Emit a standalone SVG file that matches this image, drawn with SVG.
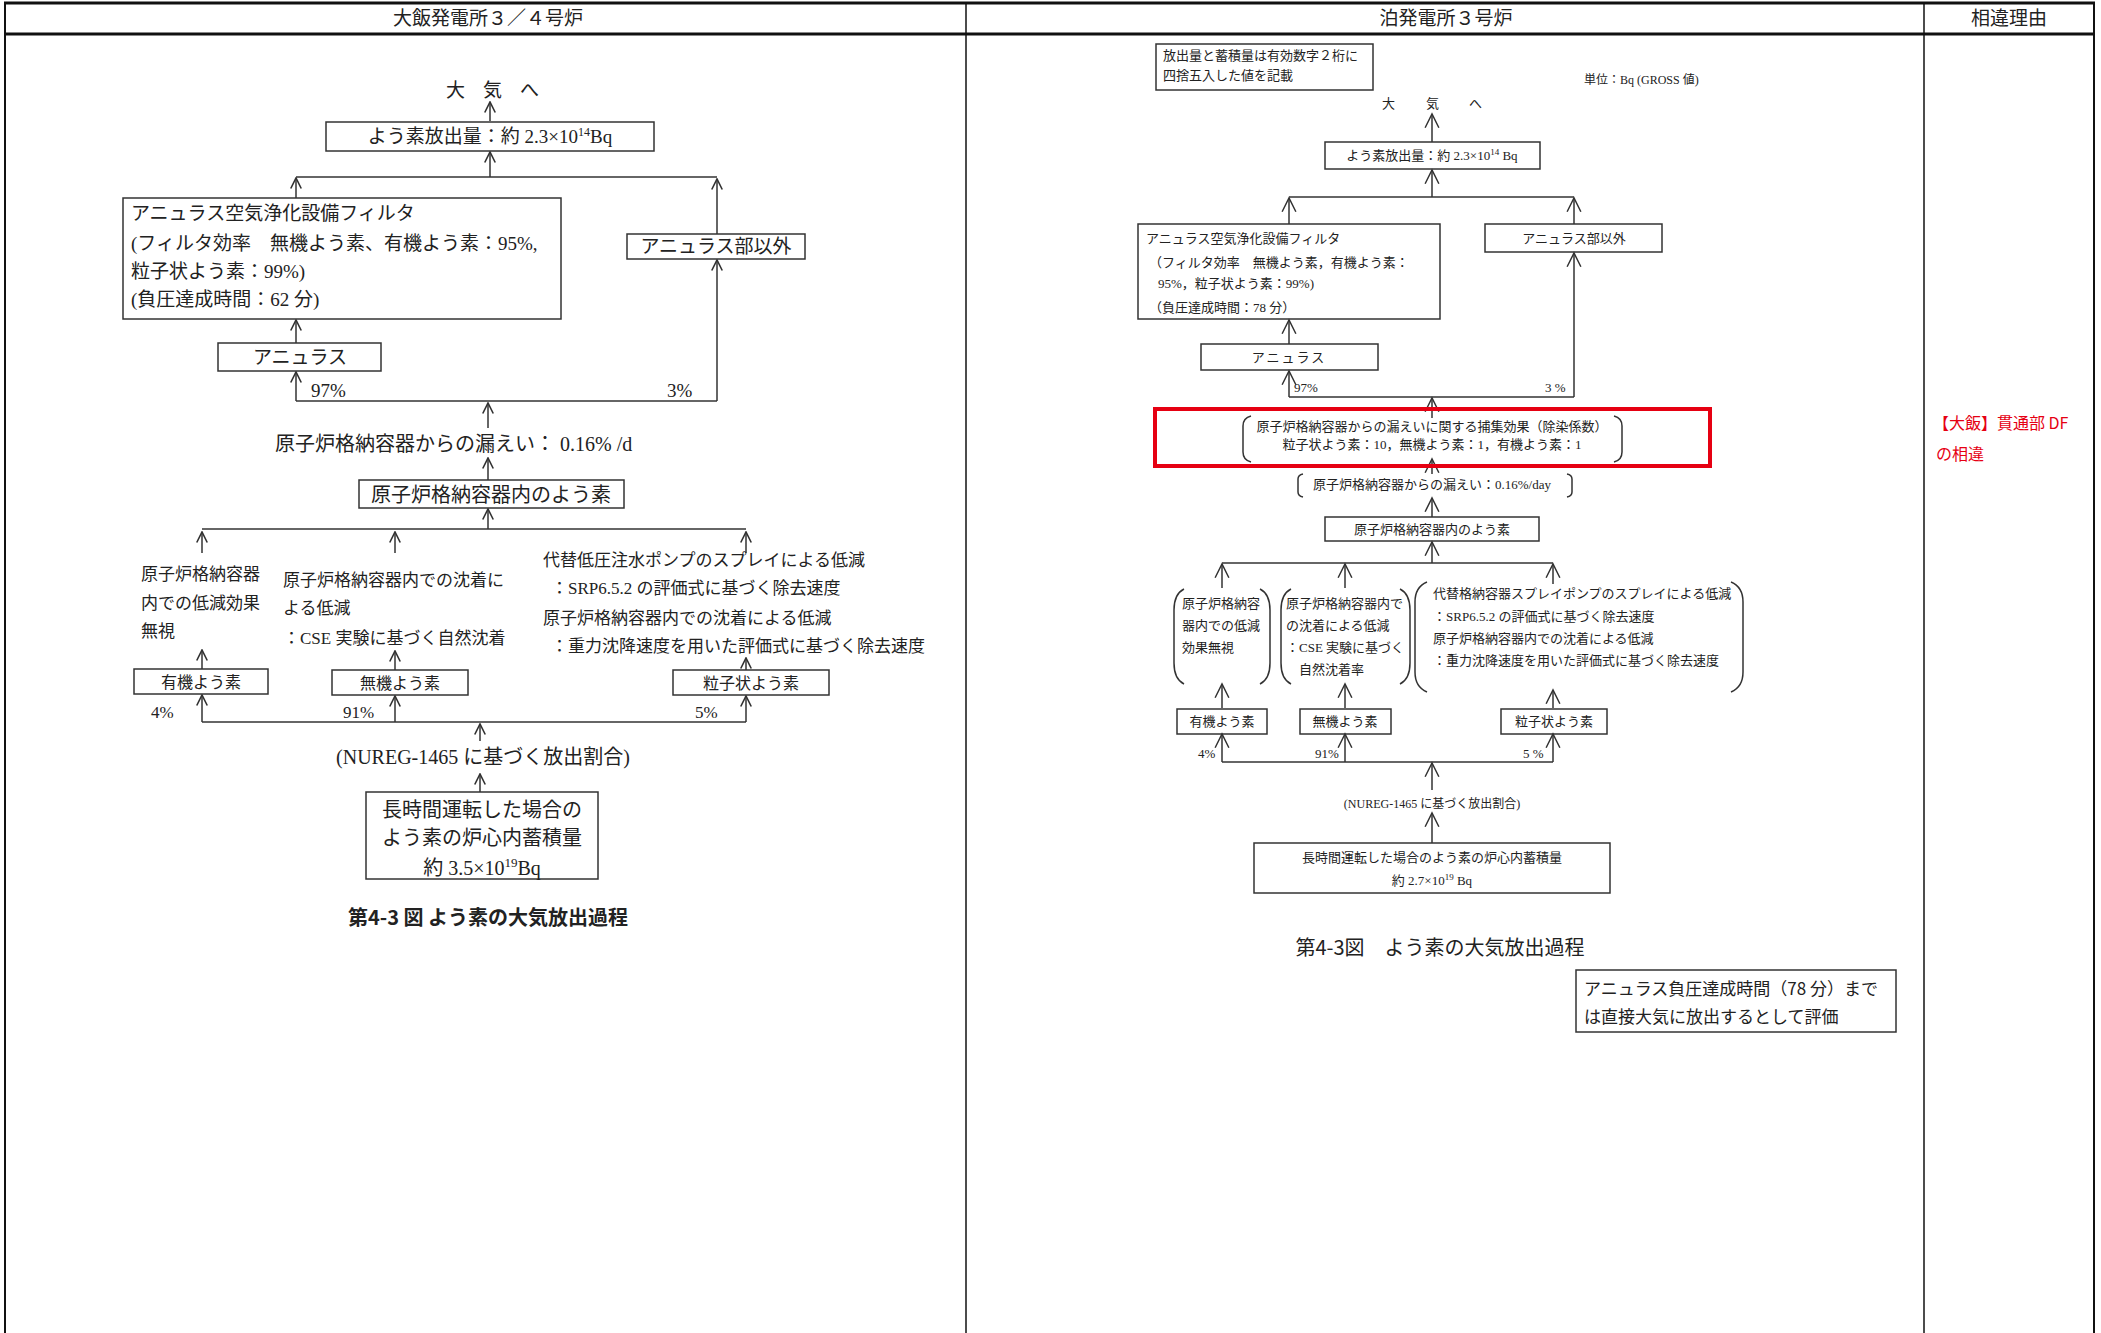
<svg xmlns="http://www.w3.org/2000/svg" width="2101" height="1333" viewBox="0 0 2101 1333">
<style>
.t{font-family:"Liberation Serif","Noto Sans CJK JP",serif;fill:#222}
.g{font-family:"Noto Sans CJK JP",sans-serif;fill:#222}
.s19{font-size:19px}.s20{font-size:20px}.s17{font-size:17px}.s16{font-size:16px}.s13{font-size:13px}.s12{font-size:12px}
.c{text-anchor:middle}
.box{fill:none;stroke:#333;stroke-width:1.5}
.ln{fill:none;stroke:#333;stroke-width:1.5}
.aL{marker-end:url(#mL)}
.aR{marker-end:url(#mR)}
.frame{stroke:#111;fill:none}
</style>
<defs>
<marker id="mL" markerUnits="userSpaceOnUse" markerWidth="14" markerHeight="14" viewBox="-11 -6 12 12" refX="0" refY="0" orient="auto"><path d="M-9,-4.5 L0,0 L-9,4.5" fill="none" stroke="#333" stroke-width="1.4"/></marker>
<marker id="mR" markerUnits="userSpaceOnUse" markerWidth="18" markerHeight="18" viewBox="-15 -8 17 16" refX="0" refY="0" orient="auto"><path d="M-13,-6.5 L0,0 L-13,6.5" fill="none" stroke="#333" stroke-width="1.4"/></marker>
</defs>
<rect width="2101" height="1333" fill="#fff"/>
<g id="table">
<line class="frame" x1="4" y1="3" x2="2095" y2="3" stroke-width="3"/>
<line class="frame" x1="4" y1="34" x2="2095" y2="34" stroke-width="3"/>
<line class="frame" x1="5" y1="3" x2="5" y2="1333" stroke-width="2"/>
<line class="frame" x1="966" y1="3" x2="966" y2="1333" stroke-width="1.5"/>
<line class="frame" x1="1924" y1="3" x2="1924" y2="1333" stroke-width="1.5"/>
<line class="frame" x1="2094" y1="3" x2="2094" y2="1333" stroke-width="2"/>
<text class="g s19 c" x="488" y="25">大飯発電所３／４号炉</text>
<text class="g s19 c" x="1446" y="25">泊発電所３号炉</text>
<text class="g s19 c" x="2009" y="25">相違理由</text>
</g>
<g id="reason">
<text class="g s16" x="1933" y="429" style="fill:#e60012">【大飯】貫通部 DF</text>
<text class="g s16" x="1936" y="460" style="fill:#e60012">の相違</text>
</g>

<!-- LEFT DIAGRAM -->
<g id="L-connectors">
<line class="ln aL" x1="490" y1="121" x2="490" y2="102"/>
<line class="ln aL" x1="490" y1="177" x2="490" y2="152"/>
<line class="ln" x1="296" y1="177" x2="717" y2="177"/>
<line class="ln aL" x1="296" y1="198" x2="296" y2="178"/>
<line class="ln aL" x1="717" y1="234" x2="717" y2="179"/>
<line class="ln aL" x1="296" y1="343" x2="296" y2="320"/>
<line class="ln aL" x1="296" y1="401" x2="296" y2="372"/>
<line class="ln" x1="296" y1="401" x2="717" y2="401"/>
<line class="ln aL" x1="717" y1="401" x2="717" y2="260"/>
<line class="ln aL" x1="488" y1="428" x2="488" y2="403"/>
<line class="ln aL" x1="488" y1="480" x2="488" y2="458"/>
<line class="ln aL" x1="488" y1="529" x2="488" y2="509"/>
<line class="ln" x1="202" y1="529" x2="746" y2="529"/>
<line class="ln aL" x1="202" y1="553" x2="202" y2="532"/>
<line class="ln aL" x1="395" y1="553" x2="395" y2="532"/>
<line class="ln aL" x1="746" y1="553" x2="746" y2="532"/>
<line class="ln aL" x1="202" y1="669" x2="202" y2="650"/>
<line class="ln aL" x1="395" y1="670" x2="395" y2="651"/>
<line class="ln aL" x1="746" y1="670" x2="746" y2="658"/>
<line class="ln" x1="202" y1="722" x2="746" y2="722"/>
<line class="ln aL" x1="202" y1="722" x2="202" y2="695"/>
<line class="ln aL" x1="395" y1="722" x2="395" y2="696"/>
<line class="ln aL" x1="746" y1="722" x2="746" y2="696"/>
<line class="ln aL" x1="480" y1="741" x2="480" y2="724"/>
<line class="ln aL" x1="480" y1="792" x2="480" y2="774"/>
</g>
<g id="L-sky"><text class="t s19" x="446 483 520" y="97">大気へ</text></g>
<g id="L-release"><rect class="box" x="326" y="122" width="328" height="29"/>
<text class="t s19 c" x="490" y="143">よう素放出量：約 2.3×10<tspan font-size="12" dy="-7">14</tspan><tspan dy="7">Bq</tspan></text></g>
<g id="L-filter"><rect class="box" x="123" y="198" width="438" height="121"/>
<text class="t s19" x="131" y="220">アニュラス空気浄化設備フィルタ</text>
<text class="t s19" x="131" y="250">(フィルタ効率　無機よう素、有機よう素：95%,</text>
<text class="t s19" x="131" y="278">粒子状よう素：99%)</text>
<text class="t s19" x="131" y="306">(負圧達成時間：62 分)</text></g>
<g id="L-other"><rect class="box" x="627" y="234" width="178" height="25"/>
<text class="t s19 c" x="716" y="253">アニュラス部以外</text></g>
<g id="L-annulus"><rect class="box" x="218" y="343" width="163" height="28"/>
<text class="t s19 c" x="300" y="364">アニュラス</text></g>
<g id="L-pct1"><text class="t s19" x="311" y="397">97%</text><text class="t s19" x="667" y="397">3%</text></g>
<g id="L-leak"><text class="t s20" x="275" y="451">原子炉格納容器からの漏えい： 0.16% /d</text></g>
<g id="L-cv"><rect class="box" x="359" y="480" width="265" height="28"/>
<text class="t s20 c" x="491" y="502">原子炉格納容器内のよう素</text></g>
<g id="L-note1"><text class="t s17" x="141" y="580">原子炉格納容器</text><text class="t s17" x="141" y="609">内での低減効果</text><text class="t s17" x="141" y="637">無視</text></g>
<g id="L-note2"><text class="t s17" x="283" y="586">原子炉格納容器内での沈着に</text><text class="t s17" x="283" y="614">よる低減</text><text class="t s17" x="283" y="644">：CSE 実験に基づく自然沈着</text></g>
<g id="L-note3"><text class="t s17" x="543" y="566">代替低圧注水ポンプのスプレイによる低減</text>
<text class="t s17" x="551" y="594">：SRP6.5.2 の評価式に基づく除去速度</text>
<text class="t s17" x="543" y="624">原子炉格納容器内での沈着による低減</text>
<text class="t s17" x="551" y="652">：重力沈降速度を用いた評価式に基づく除去速度</text></g>
<g id="L-org"><rect class="box" x="134" y="669" width="134" height="25"/><text class="t s16 c" x="201" y="688">有機よう素</text></g>
<g id="L-inorg"><rect class="box" x="332" y="670" width="136" height="25"/><text class="t s16 c" x="400" y="689">無機よう素</text></g>
<g id="L-part"><rect class="box" x="673" y="670" width="156" height="25"/><text class="t s16 c" x="751" y="689">粒子状よう素</text></g>
<g id="L-pct2"><text class="t s17" x="151" y="718">4%</text><text class="t s17" x="343" y="718">91%</text><text class="t s17" x="695" y="718">5%</text></g>
<g id="L-nureg"><text class="t s20 c" x="483" y="764">(NUREG-1465 に基づく放出割合)</text></g>
<g id="L-core"><rect class="box" x="366" y="792" width="232" height="87"/>
<text class="t s20 c" x="482" y="817">長時間運転した場合の</text>
<text class="t s20 c" x="482" y="845">よう素の炉心内蓄積量</text>
<text class="t s20 c" x="482" y="875">約 3.5×10<tspan font-size="13" dy="-8">19</tspan><tspan dy="8">Bq</tspan></text></g>
<g id="L-caption"><text class="g s20 c" x="488" y="925" font-weight="bold">第4-3 図 よう素の大気放出過程</text></g>

<!-- RIGHT DIAGRAM -->
<g id="R-connectors">
<line class="ln aR" x1="1432" y1="142" x2="1432" y2="114"/>
<line class="ln aR" x1="1432" y1="197" x2="1432" y2="170"/>
<line class="ln" x1="1289" y1="197" x2="1574" y2="197"/>
<line class="ln aR" x1="1289" y1="224" x2="1289" y2="198"/>
<line class="ln aR" x1="1574" y1="224" x2="1574" y2="198"/>
<line class="ln aR" x1="1574" y1="397" x2="1574" y2="253"/>
<line class="ln aR" x1="1289" y1="344" x2="1289" y2="320"/>
<line class="ln aR" x1="1289" y1="397" x2="1289" y2="371"/>
<line class="ln" x1="1289" y1="397" x2="1574" y2="397"/>
<line class="ln aR" x1="1432" y1="418" x2="1432" y2="398"/>
<line class="ln aR" x1="1432" y1="474" x2="1432" y2="459"/>
<line class="ln aR" x1="1432" y1="517" x2="1432" y2="498"/>
<line class="ln aR" x1="1432" y1="563" x2="1432" y2="542"/>
<line class="ln" x1="1222" y1="563" x2="1553" y2="563"/>
<line class="ln aR" x1="1222" y1="588" x2="1222" y2="564"/>
<line class="ln aR" x1="1345" y1="588" x2="1345" y2="564"/>
<line class="ln aR" x1="1553" y1="584" x2="1553" y2="564"/>
<line class="ln aR" x1="1222" y1="708" x2="1222" y2="684"/>
<line class="ln aR" x1="1345" y1="708" x2="1345" y2="684"/>
<line class="ln aR" x1="1553" y1="708" x2="1553" y2="690"/>
<line class="ln" x1="1222" y1="762" x2="1553" y2="762"/>
<line class="ln aR" x1="1222" y1="762" x2="1222" y2="734"/>
<line class="ln aR" x1="1345" y1="762" x2="1345" y2="734"/>
<line class="ln aR" x1="1553" y1="762" x2="1553" y2="734"/>
<line class="ln aR" x1="1432" y1="790" x2="1432" y2="763"/>
<line class="ln aR" x1="1432" y1="843" x2="1432" y2="813"/>
</g>
<g id="R-note"><rect class="box" x="1156" y="44" width="217" height="46"/>
<text class="t s13" x="1163" y="60">放出量と蓄積量は有効数字２桁に</text>
<text class="t s13" x="1163" y="80">四捨五入した値を記載</text></g>
<g id="R-unit"><text class="t s12" x="1584" y="84">単位：Bq (GROSS 値)</text></g>
<g id="R-sky"><text class="t s13" x="1382 1426 1469" y="108">大気へ</text></g>
<g id="R-release"><rect class="box" x="1325" y="142" width="215" height="27"/>
<text class="t s13 c" x="1432" y="160">よう素放出量：約 2.3×10<tspan font-size="9" dy="-5">14</tspan><tspan dy="5"> Bq</tspan></text></g>
<g id="R-filter"><rect class="box" x="1138" y="224" width="302" height="95"/>
<text class="t s13" x="1146" y="243">アニュラス空気浄化設備フィルタ</text>
<text class="t s13" x="1149" y="267">（フィルタ効率　無機よう素，有機よう素：</text>
<text class="t s13" x="1158" y="288">95%，粒子状よう素：99%)</text>
<text class="t s13" x="1149" y="312">（負圧達成時間：78 分）</text></g>
<g id="R-other"><rect class="box" x="1485" y="224" width="177" height="28"/>
<text class="t s13 c" x="1574" y="243">アニュラス部以外</text></g>
<g id="R-annulus"><rect class="box" x="1201" y="344" width="177" height="26"/>
<text class="t s13 c" x="1289" y="362" letter-spacing="2">アニュラス</text></g>
<g id="R-pct1"><text class="t s13" x="1294" y="392">97%</text><text class="t s13" x="1545" y="392">3 %</text></g>
<g id="R-df">
<rect x="1155" y="409" width="555" height="57" fill="none" stroke="#e60012" stroke-width="4"/>
<path class="ln" d="M1251,416 Q1243,418 1243,426 L1243,452 Q1243,460 1251,462"/>
<path class="ln" d="M1614,416 Q1622,418 1622,426 L1622,452 Q1622,460 1614,462"/>
<text class="t s13 c" x="1432" y="431">原子炉格納容器からの漏えいに関する捕集効果（除染係数）</text>
<text class="t s13 c" x="1432" y="449">粒子状よう素：10，無機よう素：1，有機よう素：1</text></g>
<g id="R-leak">
<path class="ln" d="M1303,474 Q1298,475 1298,479 L1298,492 Q1298,496 1303,497"/>
<path class="ln" d="M1567,474 Q1572,475 1572,479 L1572,492 Q1572,496 1567,497"/>
<text class="t s13 c" x="1432" y="489">原子炉格納容器からの漏えい：0.16%/day</text></g>
<g id="R-cv"><rect class="box" x="1325" y="517" width="214" height="24"/>
<text class="t s13 c" x="1432" y="534">原子炉格納容器内のよう素</text></g>
<g id="R-note1">
<path class="ln" d="M1184,589 Q1174,594 1174,610 L1174,663 Q1174,679 1184,684"/>
<path class="ln" d="M1260,589 Q1270,594 1270,610 L1270,663 Q1270,679 1260,684"/>
<text class="t s13" x="1182" y="608">原子炉格納容</text><text class="t s13" x="1182" y="630">器内での低減</text><text class="t s13" x="1182" y="652">効果無視</text></g>
<g id="R-note2">
<path class="ln" d="M1291,589 Q1281,594 1281,610 L1281,663 Q1281,679 1291,684"/>
<path class="ln" d="M1400,589 Q1410,594 1410,610 L1410,663 Q1410,679 1400,684"/>
<text class="t s13" x="1286" y="608">原子炉格納容器内で</text><text class="t s13" x="1286" y="630">の沈着による低減</text><text class="t s13" x="1286" y="652">：CSE 実験に基づく</text><text class="t s13" x="1299" y="674">自然沈着率</text></g>
<g id="R-note3">
<path class="ln" d="M1427,582 Q1415,587 1415,602 L1415,672 Q1415,687 1427,692"/>
<path class="ln" d="M1731,582 Q1743,587 1743,602 L1743,672 Q1743,687 1731,692"/>
<text class="t s13" x="1433" y="598">代替格納容器スプレイポンプのスプレイによる低減</text>
<text class="t s13" x="1433" y="621">：SRP6.5.2 の評価式に基づく除去速度</text>
<text class="t s13" x="1433" y="643">原子炉格納容器内での沈着による低減</text>
<text class="t s13" x="1433" y="665">：重力沈降速度を用いた評価式に基づく除去速度</text></g>
<g id="R-org"><rect class="box" x="1177" y="709" width="90" height="25"/><text class="t s13 c" x="1222" y="726">有機よう素</text></g>
<g id="R-inorg"><rect class="box" x="1300" y="709" width="91" height="25"/><text class="t s13 c" x="1345" y="726">無機よう素</text></g>
<g id="R-part"><rect class="box" x="1501" y="709" width="106" height="25"/><text class="t s13 c" x="1554" y="726">粒子状よう素</text></g>
<g id="R-pct2"><text class="t s13" x="1198" y="758">4%</text><text class="t s13" x="1315" y="758">91%</text><text class="t s13" x="1523" y="758">5 %</text></g>
<g id="R-nureg"><text class="t s12 c" x="1432" y="808">(NUREG-1465 に基づく放出割合)</text></g>
<g id="R-core"><rect class="box" x="1254" y="843" width="356" height="50"/>
<text class="t s13 c" x="1432" y="862">長時間運転した場合のよう素の炉心内蓄積量</text>
<text class="t s13 c" x="1432" y="885">約 2.7×10<tspan font-size="9" dy="-5">19</tspan><tspan dy="5"> Bq</tspan></text></g>
<g id="R-caption"><text class="g s20 c" x="1440" y="955">第4-3図　よう素の大気放出過程</text></g>
<g id="R-remark"><rect class="box" x="1576" y="970" width="320" height="62"/>
<text class="g s17" x="1584" y="995">アニュラス負圧達成時間（78 分）まで</text>
<text class="g s17" x="1584" y="1023">は直接大気に放出するとして評価</text></g>
</svg>
